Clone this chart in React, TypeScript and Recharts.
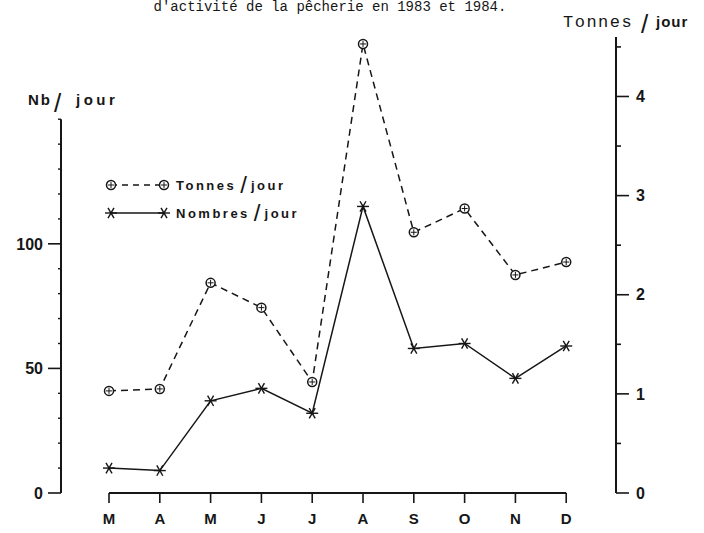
import React from 'react';
import { LineChart, Line, XAxis, YAxis, ReferenceLine, Legend } from 'recharts';

const months = ['M', 'A', 'M', 'J', 'J', 'A', 'S', 'O', 'N', 'D'];
const tonnesParJour = [1.03, 1.05, 2.12, 1.87, 1.12, 4.53, 2.63, 2.87, 2.2, 2.33];
const nombresParJour = [10, 9, 37, 42, 32, 115, 58, 60, 46, 59];
const leftTicks = [0, 10, 20, 30, 40, 50, 60, 70, 80, 90, 100, 110, 120, 130, 140, 150];
const leftLabels = [0, 50, 100];
const rightTicks = [0, 0.5, 1, 1.5, 2, 2.5, 3, 3.5, 4, 4.5];
const rightLabels = [0, 1, 2, 3, 4];
const xTicks = [0, 1, 2, 3, 4, 5, 6, 7, 8, 9];
const legendItems = ['Tonnes', 'Nombres'];
const titleText = "d'activité de la pêcherie en 1983 et 1984.";

const data = months.map((m, i) => ({ i, month: m, tonnes: tonnesParJour[i], nombres: nombresParJour[i] }));

const INK = '#161616';
const SANS = '"Liberation Sans", Arial, sans-serif';
const MONO = '"Liberation Mono", "DejaVu Sans Mono", monospace';

const CircleDot = (props: any) => {
  const { cx, cy } = props;
  if (cx == null || cy == null) return null;
  return (
    <g>
      <circle cx={cx} cy={cy} r={4.5} fill="#fff" stroke={INK} strokeWidth={1.5} />
      <line x1={cx - 3} x2={cx + 3} y1={cy} y2={cy} stroke={INK} strokeWidth={1} />
      <line x1={cx} x2={cx} y1={cy - 3} y2={cy + 3} stroke={INK} strokeWidth={1} />
    </g>
  );
};

const StarDot = (props: any) => {
  const { cx, cy } = props;
  if (cx == null || cy == null) return null;
  const r = 6;
  const arms = [0, 60, 120].map((a) => {
    const rad = (a * Math.PI) / 180;
    return (
      <line
        key={a}
        x1={cx - r * Math.cos(rad)}
        y1={cy - r * Math.sin(rad)}
        x2={cx + r * Math.cos(rad)}
        y2={cy + r * Math.sin(rad)}
        stroke={INK}
        strokeWidth={1.4}
      />
    );
  });
  return <g>{arms}</g>;
};

const LeftTick = (props: any) => {
  const { x, y, payload } = props;
  const v = payload.value;
  const major = leftLabels.includes(v);
  return (
    <g>
      <line x1={x - (major ? 13 : 3)} x2={x} y1={y} y2={y} stroke={INK} strokeWidth={major ? 1.6 : 1.4} />
      {major && (
        <text x={x - 18} y={y} dy="0.36em" textAnchor="end" fill={INK} fontSize={16} fontWeight={700} fontFamily={SANS}>
          {v}
        </text>
      )}
    </g>
  );
};

const RightTick = (props: any) => {
  const { x, y, payload } = props;
  const v = payload.value;
  const major = rightLabels.includes(v);
  return (
    <g>
      <line x1={x} x2={x + (major ? 13 : 5)} y1={y} y2={y} stroke={INK} strokeWidth={1.6} />
      {major && (
        <text x={x + 20} y={y} dy="0.36em" textAnchor="start" fill={INK} fontSize={16} fontWeight={700} fontFamily={SANS}>
          {v}
        </text>
      )}
    </g>
  );
};

const LegendContent = () => (
  <div style={{ fontFamily: SANS, color: INK }}>
    {legendItems.map((name, k) => (
      <div key={name} style={{ display: 'flex', alignItems: 'center', height: 28 }}>
        <svg width={64} height={16} style={{ overflow: 'visible' }}>
          {k === 0 ? (
            <g>
              <line x1={5} x2={58} y1={8} y2={8} stroke={INK} strokeWidth={1.5} strokeDasharray="6 5" />
              <CircleDot cx={5} cy={8} />
              <CircleDot cx={58} cy={8} />
            </g>
          ) : (
            <g>
              <line x1={5} x2={58} y1={8} y2={8} stroke={INK} strokeWidth={1.5} />
              <StarDot cx={5} cy={8} />
              <StarDot cx={58} cy={8} />
            </g>
          )}
        </svg>
        <span style={{ fontSize: 13, fontWeight: 700, letterSpacing: 2.5, marginLeft: 6 }}>{name}</span>
        <span style={{ fontSize: 24, fontWeight: 300, margin: '0 4px' }}>/</span>
        <span style={{ fontSize: 13, fontWeight: 700, letterSpacing: 2.5 }}>jour</span>
      </div>
    ))}
  </div>
);

export default function App() {
  return (
    <div style={{ position: 'absolute', left: 0, top: 0, width: 704, height: 533, background: '#fff' }}>
      <LineChart width={704} height={533} data={data} margin={{ top: 37, right: 0, bottom: 0, left: 0 }}>
        <text x={330} y={11} textAnchor="middle" fontFamily={MONO} fontSize={14} fill={INK}>
          {titleText}
        </text>
        <text x={563} y={27} fontFamily={MONO} fontSize={17} letterSpacing={1.5} fill={INK}>
          Tonnes
        </text>
        <text x={641} y={33} fontFamily={SANS} fontSize={26} fontWeight={300} fill={INK}>
          /
        </text>
        <text x={656} y={27} fontFamily={SANS} fontSize={15} fontWeight={700} letterSpacing={1} fill={INK}>
          jour
        </text>
        <text x={28} y={105} fontFamily={SANS} fontSize={15} fontWeight={700} letterSpacing={2} fill={INK}>
          Nb
        </text>
        <text x={54} y={112} fontFamily={SANS} fontSize={26} fontWeight={300} fill={INK}>
          /
        </text>
        <text x={76} y={105} fontFamily={SANS} fontSize={15} fontWeight={700} letterSpacing={3.5} fill={INK}>
          jour
        </text>
        <XAxis
          dataKey="i"
          type="number"
          domain={[-0.945, 9.98]}
          ticks={xTicks}
          tickFormatter={(v: number) => months[v]}
          axisLine={false}
          tickLine={{ stroke: INK, strokeWidth: 1.6 }}
          tickSize={10}
          tickMargin={10}
          height={40}
          interval={0}
          tick={{ fill: INK, fontSize: 15, fontWeight: 700, fontFamily: SANS }}
        />
        <YAxis
          yAxisId="left"
          orientation="left"
          width={61}
          domain={[0, 183]}
          ticks={leftTicks}
          interval={0}
          axisLine={false}
          tickLine={false}
          tickSize={0}
          tickMargin={0}
          tick={<LeftTick />}
        />
        <YAxis
          yAxisId="right"
          orientation="right"
          width={88}
          domain={[0, 4.6]}
          ticks={rightTicks}
          interval={0}
          axisLine={{ stroke: INK, strokeWidth: 2 }}
          tickLine={false}
          tickSize={0}
          tickMargin={0}
          tick={<RightTick />}
        />
        <ReferenceLine
          yAxisId="left"
          segment={[{ x: -0.945, y: 0 }, { x: -0.945, y: 150 }]}
          stroke={INK}
          strokeWidth={2}
        />
        <ReferenceLine
          yAxisId="left"
          segment={[{ x: 0, y: 0 }, { x: 9, y: 0 }]}
          stroke={INK}
          strokeWidth={2}
        />
        <Legend
          layout="vertical"
          align="center"
          verticalAlign="middle"
          content={<LegendContent />}
          wrapperStyle={{ position: 'absolute', left: 106, top: 171, width: 260, height: 60 }}
        />
        <Line
          yAxisId="right"
          dataKey="tonnes"
          stroke={INK}
          strokeWidth={1.5}
          strokeDasharray="7 5"
          dot={<CircleDot />}
          isAnimationActive={false}
        />
        <Line
          yAxisId="left"
          dataKey="nombres"
          stroke={INK}
          strokeWidth={1.5}
          dot={<StarDot />}
          isAnimationActive={false}
        />
      </LineChart>
    </div>
  );
}
